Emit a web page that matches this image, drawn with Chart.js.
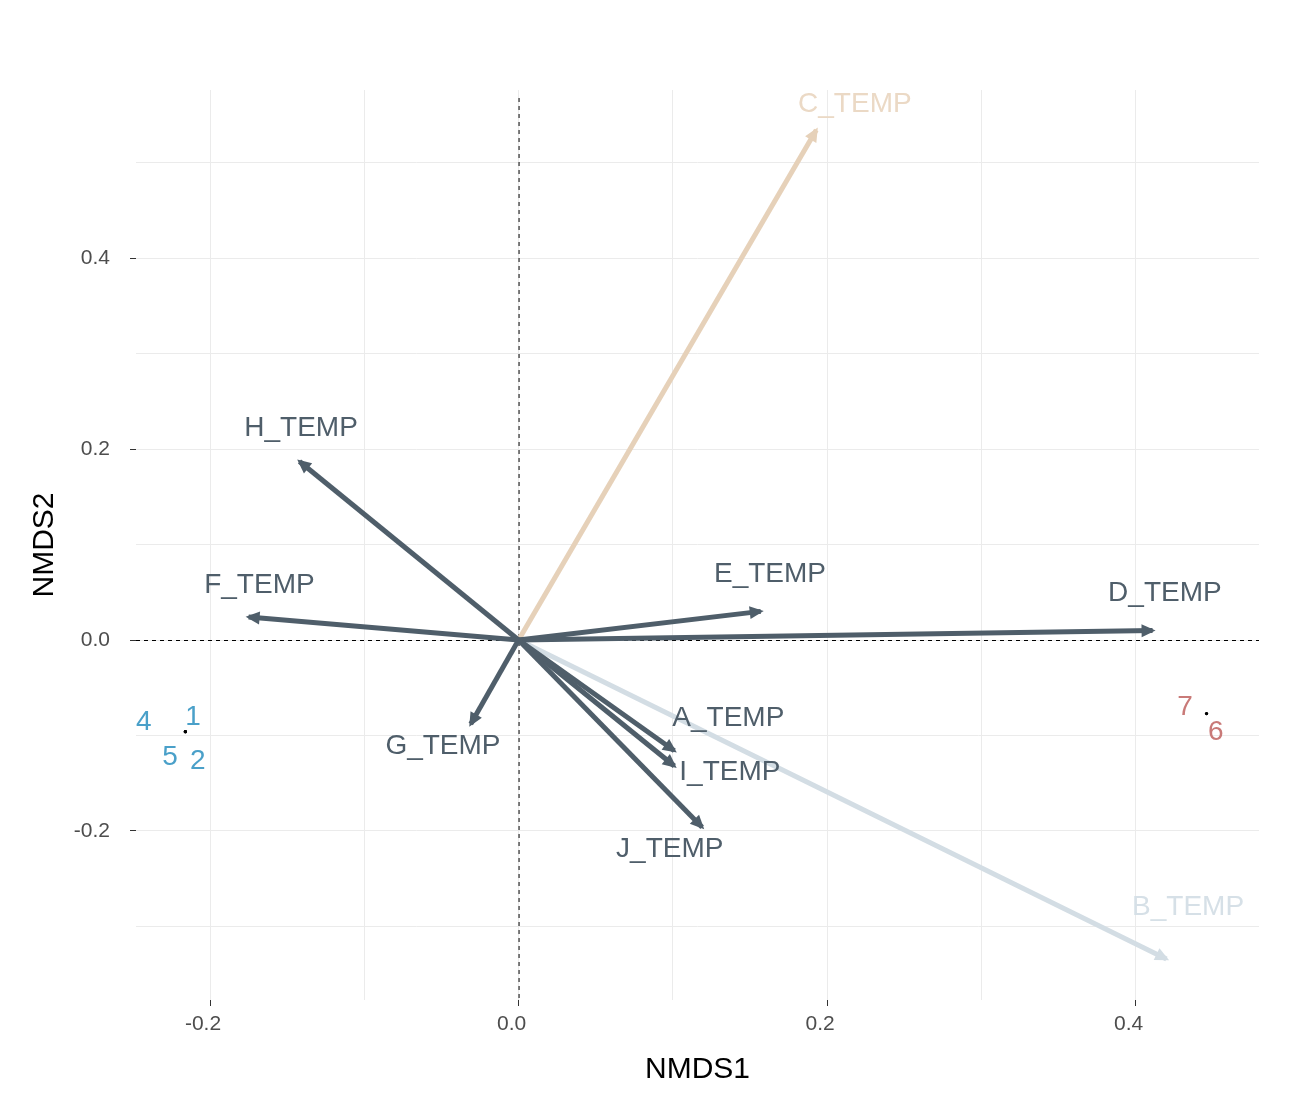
<!DOCTYPE html>
<html>
<head>
<meta charset="utf-8">
<script src="https://cdn.jsdelivr.net/npm/chart.js@4/dist/chart.umd.min.js"></script>
<style>
html,body{margin:0;padding:0;background:#fff;}
canvas{display:block;}
</style>
</head>
<body>
<canvas id="c" width="1304" height="1113"></canvas>
<script>
// ---- data ----
const envNames  = ['A_TEMP','B_TEMP','C_TEMP','D_TEMP','E_TEMP','F_TEMP','G_TEMP','H_TEMP','I_TEMP','J_TEMP'];
const envX      = [0.101, 0.420, 0.193, 0.411, 0.157, -0.175, -0.031, -0.142, 0.101, 0.119];
const envY      = [-0.116, -0.334, 0.534, 0.010, 0.030, 0.024, -0.088, 0.187, -0.132, -0.196];
const envLabelX = [0.136, 0.434, 0.218, 0.419, 0.163, -0.168, -0.049, -0.141, 0.137, 0.098];
const envLabelY = [-0.082, -0.280, 0.561, 0.049, 0.069, 0.057, -0.111, 0.222, -0.139, -0.219];
const envGroup  = ['dark','lightB','lightC','dark','dark','dark','dark','dark','dark','dark'];

const siteNames  = ['1','2','4','5','6','7'];
const siteX      = [-0.216, -0.216, -0.216, -0.216, 0.446, 0.446];
const siteY      = [-0.096, -0.096, -0.096, -0.096, -0.077, -0.077];
const siteLabelX = [-0.211, -0.208, -0.243, -0.226, 0.452, 0.432];
const siteLabelY = [-0.081, -0.127, -0.086, -0.123, -0.097, -0.070];
const siteGroup  = ['a','a','a','a','b','b'];

const xGrid = [-0.2, -0.1, 0, 0.1, 0.2, 0.3, 0.4];
const yGrid = [-0.3, -0.2, -0.1, 0, 0.1, 0.2, 0.3, 0.4, 0.5];
const xTickLabels = [-0.2, 0, 0.2, 0.4];
const yTickLabels = [-0.2, 0, 0.2, 0.4];

// ---- styles ----
const FONT = '"Liberation Sans", Arial, sans-serif';
const lineColors  = {dark:'#4f5e6a', lightB:'#d3dde4', lightC:'#e6d1b9'};
const labelColors = {dark:'#4f5e6a', lightB:'#d6e0e7', lightC:'#ebd9c5'};
const siteColors  = {a:'#4aa0c9', b:'#c97a78'};

const isMajor = (v, list) => list.some(t => Math.abs(t - v) < 1e-9);

const datasets = [];
envNames.forEach((n, i) => {
  datasets.push({
    label: n,
    data: [{x:0, y:0}, {x:envX[i], y:envY[i]}],
    showLine: true,
    borderColor: lineColors[envGroup[i]],
    borderWidth: 5,
    borderCapStyle: 'butt',
    pointRadius: 0,
    pointHoverRadius: 0,
    order: envGroup[i] === 'dark' ? 1 : 2
  });
});
datasets.push({
  label: 'sites',
  data: siteX.map((x, i) => ({x, y: siteY[i]})),
  pointRadius: 1.6,
  pointBackgroundColor: '#000',
  pointBorderWidth: 0,
  showLine: false,
  order: 0
});

const zeroLines = {
  id: 'zeroLines',
  beforeDatasetsDraw(chart) {
    const {ctx, chartArea: a, scales: {x, y}} = chart;
    const px = x.getPixelForValue(0), py = y.getPixelForValue(0);
    ctx.save();
    ctx.strokeStyle = '#000';
    ctx.lineWidth = 1;
    ctx.setLineDash([4, 4]);
    ctx.beginPath();
    ctx.moveTo(a.left, py + 0.5); ctx.lineTo(a.right, py + 0.5);
    ctx.moveTo(px + 0.5, a.top + 8); ctx.lineTo(px + 0.5, a.bottom);
    ctx.stroke();
    ctx.restore();
  }
};

const arrowsAndLabels = {
  id: 'arrowsAndLabels',
  afterDatasetsDraw(chart) {
    const {ctx, scales: {x, y}} = chart;
    const order = envNames.map((n, i) => i).sort((a, b) => (envGroup[a] === 'dark') - (envGroup[b] === 'dark'));
    ctx.save();
    order.forEach(i => {
      const x0 = x.getPixelForValue(0), y0 = y.getPixelForValue(0);
      const x1 = x.getPixelForValue(envX[i]), y1 = y.getPixelForValue(envY[i]);
      const ang = Math.atan2(y1 - y0, x1 - x0);
      const L = 14, W = 6.5, ext = 3;
      const tx = x1 + ext * Math.cos(ang), ty = y1 + ext * Math.sin(ang);
      const bx = tx - L * Math.cos(ang), by = ty - L * Math.sin(ang);
      ctx.fillStyle = lineColors[envGroup[i]];
      ctx.beginPath();
      ctx.moveTo(tx, ty);
      ctx.lineTo(bx + W * Math.sin(ang), by - W * Math.cos(ang));
      ctx.lineTo(bx - W * Math.sin(ang), by + W * Math.cos(ang));
      ctx.closePath();
      ctx.fill();
    });
    ctx.font = '28px ' + FONT;
    ctx.textAlign = 'center';
    ctx.textBaseline = 'middle';
    envNames.forEach((n, i) => {
      ctx.fillStyle = labelColors[envGroup[i]];
      ctx.fillText(n, x.getPixelForValue(envLabelX[i]), y.getPixelForValue(envLabelY[i]));
    });
    siteNames.forEach((n, i) => {
      ctx.fillStyle = siteColors[siteGroup[i]];
      ctx.fillText(n, x.getPixelForValue(siteLabelX[i]), y.getPixelForValue(siteLabelY[i]));
    });
    ctx.restore();
  }
};

new Chart(document.getElementById('c'), {
  type: 'scatter',
  data: {datasets},
  plugins: [zeroLines, arrowsAndLabels],
  options: {
    responsive: false,
    animation: false,
    devicePixelRatio: 1,
    layout: {padding: {left: 0, top: 90, right: 45, bottom: 0}},
    plugins: {legend: {display: false}, tooltip: {enabled: false}},
    scales: {
      x: {
        type: 'linear',
        min: -0.248, max: 0.480,
        afterFit: s => { s.height = 113; },
        afterBuildTicks: s => { s.ticks = xGrid.map(v => ({value: v})); },
        border: {display: false},
        grid: {
          color: '#ebebeb', lineWidth: 1, tickLength: 6,
          tickColor: c => (c.tick && isMajor(c.tick.value, xTickLabels)) ? '#333333' : 'rgba(0,0,0,0)'
        },
        ticks: {
          autoSkip: false, maxRotation: 0, padding: 6, labelOffset: -7,
          color: '#4d4d4d', font: {family: FONT, size: 21},
          callback: v => isMajor(v, xTickLabels) ? v.toFixed(1) : ''
        },
        title: {display: true, text: 'NMDS1', color: '#000', font: {family: FONT, size: 30}, padding: {top: 0, bottom: 25}}
      },
      y: {
        type: 'linear',
        min: -0.377, max: 0.576,
        afterFit: s => { s.width = 136; },
        afterBuildTicks: s => { s.ticks = yGrid.map(v => ({value: v})); },
        border: {display: false},
        grid: {
          color: '#ebebeb', lineWidth: 1, tickLength: 6,
          tickColor: c => (c.tick && isMajor(c.tick.value, yTickLabels)) ? '#333333' : 'rgba(0,0,0,0)'
        },
        ticks: {
          autoSkip: false, padding: 20,
          color: '#4d4d4d', font: {family: FONT, size: 21},
          callback: v => isMajor(v, yTickLabels) ? v.toFixed(1) : ''
        },
        title: {display: true, text: 'NMDS2', color: '#000', font: {family: FONT, size: 30}, padding: {top: 27, bottom: 0}}
      }
    }
  }
});
</script>
</body>
</html>
